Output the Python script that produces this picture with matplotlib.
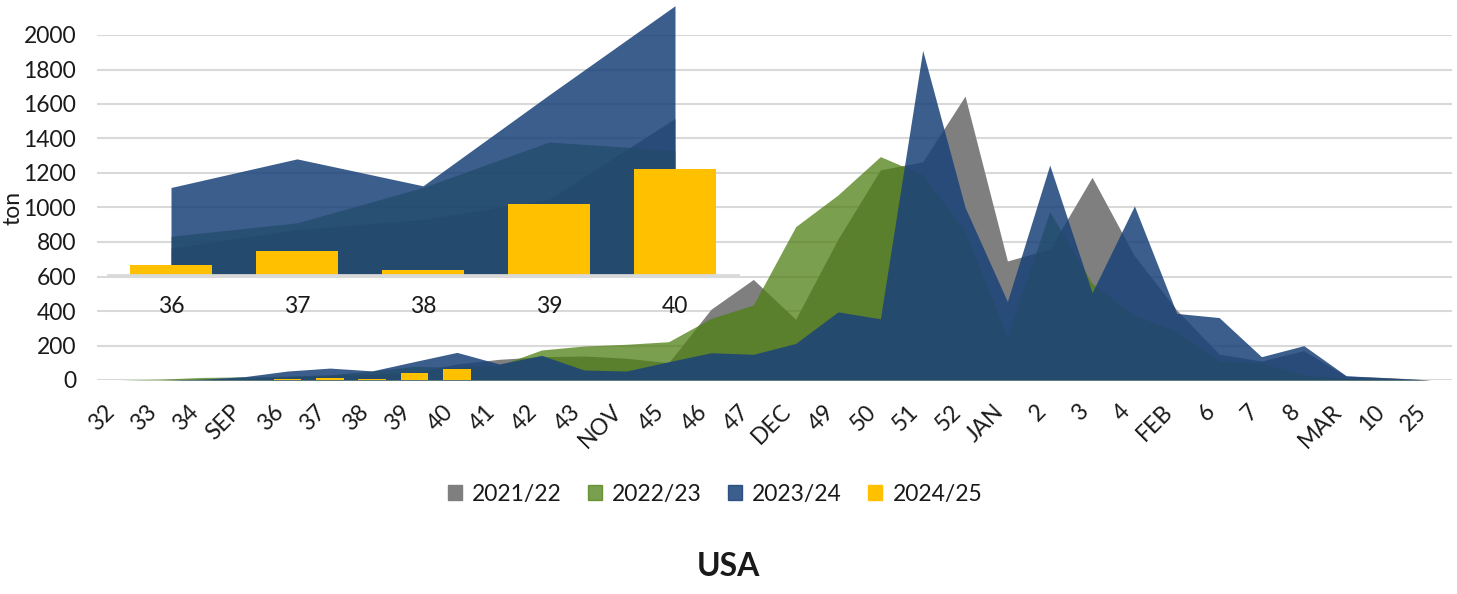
import numpy as np
import matplotlib
matplotlib.use('Agg')
import matplotlib.pyplot as plt
from matplotlib.patches import Patch

# week labels on the category axis
weeks = ['32', '33', '34', 'SEP', '36', '37', '38', '39', '40', '41', '42', '43', 'NOV',
         '45', '46', '47', 'DEC', '49', '50', '51', '52', 'JAN', '2', '3', '4', 'FEB',
         '6', '7', '8', 'MAR', '10', '25']

# tons per week
s2122 = [0, 0, 2, 5, 16, 27, 33, 45, 93, 120, 135, 139, 126, 100, 410, 583, 352, 817,
         1218, 1265, 1646, 690, 759, 1175, 720, 405, 150, 110, 170, 22, 14, 0]
s2223 = [0, 5, 15, 18, 23, 31, 52, 79, 74, 85, 174, 197, 207, 222, 357, 435, 889, 1073,
         1295, 1190, 865, 250, 976, 560, 377, 280, 110, 100, 30, 10, 5, 0]
s2324 = [0, 0, 5, 20, 52, 69, 53, 107, 160, 93, 143, 58, 52, 106, 158, 149, 212, 395,
         355, 1911, 1001, 455, 1246, 506, 1009, 386, 362, 135, 199, 25, 12, 0]
s2425 = [np.nan, np.nan, np.nan, np.nan, 6, 14, 3, 42, 63] + [np.nan] * 23

seasons = ['2021/22', '2022/23', '2023/24', '2024/25']

# zoomed inset shows weeks 36-40
zoom = slice(4, 9)

c_gray = '#7f7f7f'
c_green = '#4e7f12'
c_blue = '#1b4379'
c_yellow = '#ffc000'
a_green = 0.75
a_blue = 0.86

plt.rcParams['font.family'] = ['Lato', 'DejaVu Sans']
txt = '#1a1a1a'

fig = plt.figure(figsize=(14.57, 5.94), dpi=100)

# main chart
ax = fig.add_axes([97 / 1457, 1 - 380 / 594, 1355 / 1457, 345 / 594])
x = np.arange(len(weeks))
ax.fill_between(x, s2122, color=c_gray, lw=0)
ax.fill_between(x, s2223, color=c_green, alpha=a_green, lw=0)
ax.fill_between(x, s2324, color=c_blue, alpha=a_blue, lw=0)
ax.bar(x, s2425, width=0.65, color=c_yellow)

ax.set_xlim(-0.5, len(weeks) - 0.5)
ax.set_ylim(0, 2000)
ax.set_yticks(range(0, 2001, 200))
ax.set_xticks(x)
ax.set_xticklabels(weeks, rotation=45, ha='right', va='top')
ax.grid(axis='y', color='#d9d9d9', lw=1.5)
ax.set_axisbelow(True)
for s in ax.spines.values():
    s.set_visible(False)
ax.tick_params(length=0, labelsize=16.5, labelcolor=txt)
ax.tick_params(axis='y', pad=15)
ax.tick_params(axis='x', pad=15)

# axis title sits right at the left edge
fig.text(2 / 1457, 1 - 208 / 594, 'ton', rotation=90, ha='left', va='center',
         fontsize=16.5, color=txt)

# inset with the first weeks blown up
axin = fig.add_axes([108 / 1457, 1 - 275 / 594, 630 / 1457, 276 / 594])
axin.patch.set_alpha(0)
xi = np.arange(len(weeks[zoom]))
axin.fill_between(xi, s2122[zoom], color=c_gray, lw=0)
axin.fill_between(xi, s2223[zoom], color=c_green, alpha=a_green, lw=0)
axin.fill_between(xi, s2324[zoom], color=c_blue, alpha=a_blue, lw=0)
axin.bar(xi, s2425[zoom], width=0.65, color=c_yellow)
axin.set_xlim(-0.5, len(xi) - 0.5)
axin.set_ylim(0, 164)
axin.set_yticks([])
axin.set_xticks(xi)
axin.set_xticklabels(weeks[zoom])
for side in ['left', 'right', 'top']:
    axin.spines[side].set_visible(False)
axin.spines['bottom'].set_color('#d9d9d9')
axin.spines['bottom'].set_linewidth(2)
axin.tick_params(length=0, labelsize=16.5, labelcolor=txt, pad=15)

# legend
handles = [Patch(color=c_gray),
           Patch(color=c_green, alpha=a_green),
           Patch(color=c_blue, alpha=a_blue),
           Patch(color=c_yellow)]
fig.legend(handles, seasons, loc='center', bbox_to_anchor=(715 / 1457, 1 - 494 / 594),
           ncol=4, frameon=False, fontsize=16.5, handlelength=0.6, handleheight=0.6,
           handletextpad=0.45, columnspacing=1.15, labelcolor=txt)

fig.text(0.5, 1 - 566 / 594, 'USA', ha='center', va='center', fontsize=23,
         fontweight='bold', color=txt)

fig.savefig('out.png', dpi=100)
